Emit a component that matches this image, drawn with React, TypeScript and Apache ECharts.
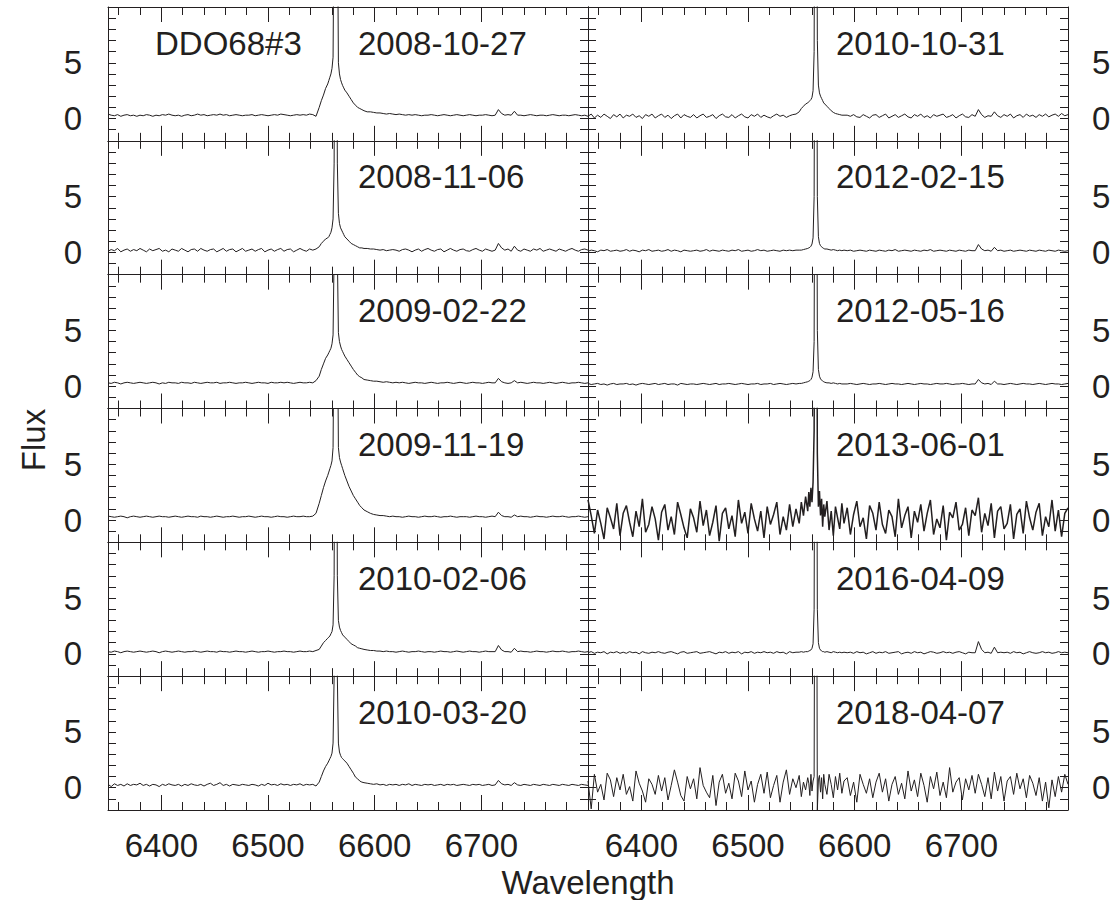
import React, { useEffect, useRef } from "react";
import * as echarts from "echarts";

// Shared wavelength sampling grid (Angstrom)
const WAVELENGTH = [
  // blue continuum (66)
  6350, 6353, 6356, 6359, 6362, 6365, 6368, 6371, 6374, 6377, 6380,
  6383, 6386, 6389, 6392, 6395, 6398, 6401, 6404, 6407, 6410, 6413,
  6416, 6419, 6422, 6425, 6428, 6431, 6434, 6437, 6440, 6443, 6446,
  6449, 6452, 6455, 6458, 6461, 6464, 6467, 6470, 6473, 6476, 6479,
  6482, 6485, 6488, 6491, 6494, 6497, 6500, 6503, 6506, 6509, 6512,
  6515, 6518, 6521, 6524, 6527, 6530, 6533, 6536, 6539, 6542, 6545,
  // line region (30)
  6548, 6550, 6552, 6554,
  6556, 6557, 6558, 6559, 6560, 6561, 6562, 6563, 6564, 6565, 6566, 6567, 6568, 6569, 6570, 6571, 6572,
  6574, 6576, 6578, 6580, 6582, 6584, 6586, 6588, 6590,
  // red continuum (70)
  6593, 6596, 6599, 6602, 6605, 6608, 6611, 6614, 6617, 6620,
  6623, 6626, 6629, 6632, 6635, 6638, 6641, 6644, 6647, 6650,
  6653, 6656, 6659, 6662, 6665, 6668, 6671, 6674, 6677, 6680,
  6683, 6686, 6689, 6692, 6695, 6698, 6701, 6704, 6707, 6710,
  6713, 6716, 6719, 6722, 6725, 6728, 6731, 6734, 6737, 6740,
  6743, 6746, 6749, 6752, 6755, 6758, 6761, 6764, 6767, 6770,
  6773, 6776, 6779, 6782, 6785, 6788, 6791, 6794, 6797, 6800,
];

const OBJECT_NAME = "DDO68#3";
const DATES_LEFT = ["2008-10-27", "2008-11-06", "2009-02-22", "2009-11-19", "2010-02-06", "2010-03-20"];
const DATES_RIGHT = ["2010-10-31", "2012-02-15", "2012-05-16", "2013-06-01", "2016-04-09", "2018-04-07"];

const X_MAJOR = [6400, 6500, 6600, 6700];
const X_MINOR = [6360, 6380, 6420, 6440, 6460, 6480, 6520, 6540, 6560, 6580, 6620, 6640, 6660, 6680, 6720, 6740, 6760, 6780];
const Y_LABELED = [0, 5];

const FLUX_L1 = [
  0.4, 0.3, 0.25, 0.35, 0.2, 0.3, 0.35, 0.25, 0.3, 0.2, 0.3,
  0.25, 0.35, 0.3, 0.2, 0.3, 0.25, 0.35, 0.3, 0.4, 0.3, 0.25,
  0.3, 0.2, 0.3, 0.35, 0.25, 0.3, 0.4, 0.3, 0.35, 0.25, 0.3,
  0.35, 0.3, 0.4, 0.3, 0.35, 0.25, 0.3, 0.35, 0.3, 0.25, 0.3,
  0.3, 0.35, 0.25, 0.3, 0.35, 0.3, 0.25, 0.3, 0.35, 0.3, 0.4,
  0.35, 0.3, 0.25, 0.3, 0.35, 0.3, 0.35, 0.3, 0.4, 0.35, 0.2,
  1.0, 1.6, 2.1, 2.7,
  3.1, 3.4, 3.7, 4.0, 4.5, 5.5, 20, 40, 40, 20, 5, 4, 3.5, 3.2, 2.95, 2.75, 2.55,
  2.3, 2.0, 1.7, 1.4, 1.2, 1.0, 0.9, 0.8, 0.7,
  0.6, 0.6, 0.55, 0.5, 0.5, 0.45, 0.4, 0.45, 0.4, 0.35,
  0.4, 0.35, 0.3, 0.35, 0.3, 0.35, 0.3, 0.25, 0.3, 0.3,
  0.35, 0.3, 0.25, 0.3, 0.35, 0.3, 0.25, 0.3, 0.35, 0.3,
  0.25, 0.3, 0.35, 0.3, 0.25, 0.3, 0.3, 0.35, 0.3, 0.25,
  0.3, 0.8, 0.45, 0.3, 0.35, 0.3, 0.65, 0.3, 0.3, 0.25,
  0.3, 0.35, 0.3, 0.25, 0.3, 0.3, 0.25, 0.3, 0.35, 0.3,
  0.25, 0.3, 0.3, 0.25, 0.3, 0.35, 0.3, 0.25, 0.3, 0.2,
];

const FLUX_L2 = [
  0.1, 0.25, 0.15, 0.35, 0.05, 0.2, 0.3, 0.1, 0.25, 0.15, 0.35,
  0.2, 0.05, 0.3, 0.15, 0.25, 0.35, 0.1, 0.2, 0.05, 0.3, 0.2,
  0.1, 0.35, 0.2, 0.05, 0.25, 0.3, 0.1, 0.35, 0.2, 0.1, 0.25,
  0.3, 0.05, 0.2, 0.35, 0.1, 0.25, 0.3, 0.05, 0.2, 0.35, 0.1,
  0.2, 0.3, 0.1, 0.25, 0.35, 0.05, 0.2, 0.3, 0.1, 0.25, 0.35,
  0.1, 0.25, 0.3, 0.05, 0.2, 0.35, 0.2, 0.1, 0.3, 0.2, 0.3,
  0.5, 0.8, 1.0, 1.2,
  1.3, 1.4, 1.6, 1.8, 2.2, 3.0, 8, 40, 40, 8, 3.5, 2.6, 2.2, 2.0, 1.8, 1.6, 1.4,
  1.2, 1.0, 0.8, 0.7, 0.6, 0.5, 0.4, 0.4, 0.35,
  0.35, 0.3, 0.3, 0.25, 0.2, 0.25, 0.15, 0.2, 0.25, 0.2,
  0.1, 0.25, 0.3, 0.2, 0.05, 0.2, 0.3, 0.1, 0.25, 0.35,
  0.2, 0.1, 0.25, 0.3, 0.05, 0.2, 0.35, 0.2, 0.1, 0.25,
  0.3, 0.15, 0.1, 0.25, 0.35, 0.2, 0.1, 0.3, 0.2, 0.1,
  0.2, 0.8, 0.4, 0.2, 0.3, 0.1, 0.55, 0.2, 0.1, 0.3,
  0.2, 0.1, 0.3, 0.2, 0.35, 0.1, 0.2, 0.3, 0.2, 0.1,
  0.3, 0.2, 0.1, 0.25, 0.35, 0.2, 0.1, 0.25, 0.3, 0.2,
];

const FLUX_L3 = [
  0.3, 0.25, 0.35, 0.3, 0.2, 0.3, 0.35, 0.3, 0.25, 0.3, 0.35,
  0.3, 0.25, 0.3, 0.35, 0.3, 0.2, 0.3, 0.25, 0.35, 0.3, 0.3,
  0.25, 0.35, 0.3, 0.3, 0.25, 0.35, 0.3, 0.25, 0.3, 0.35, 0.3,
  0.3, 0.35, 0.25, 0.3, 0.3, 0.35, 0.3, 0.25, 0.3, 0.3, 0.35,
  0.3, 0.25, 0.3, 0.35, 0.3, 0.3, 0.25, 0.35, 0.3, 0.3, 0.35,
  0.3, 0.35, 0.3, 0.25, 0.3, 0.35, 0.3, 0.3, 0.35, 0.3, 0.5,
  0.9, 1.5, 2.0, 2.5,
  2.8, 3.0, 3.2, 3.4, 3.8, 4.6, 12, 40, 40, 12, 4.8, 4.0, 3.6, 3.3, 3.1, 2.9, 2.7,
  2.4, 2.1, 1.8, 1.5, 1.25, 1.0, 0.85, 0.75, 0.6,
  0.55, 0.5, 0.45, 0.45, 0.4, 0.35, 0.4, 0.35, 0.3, 0.35,
  0.3, 0.35, 0.3, 0.25, 0.3, 0.35, 0.3, 0.3, 0.25, 0.3,
  0.35, 0.3, 0.25, 0.3, 0.3, 0.35, 0.3, 0.25, 0.3, 0.35,
  0.3, 0.25, 0.3, 0.35, 0.3, 0.3, 0.25, 0.3, 0.35, 0.3,
  0.3, 0.7, 0.4, 0.3, 0.25, 0.3, 0.5, 0.3, 0.35, 0.3,
  0.25, 0.3, 0.35, 0.3, 0.3, 0.25, 0.3, 0.35, 0.3, 0.25,
  0.3, 0.35, 0.3, 0.25, 0.3, 0.3, 0.35, 0.3, 0.25, 0.3,
];

const FLUX_L4 = [
  0.35, 0.3, 0.25, 0.3, 0.35, 0.3, 0.2, 0.3, 0.35, 0.3, 0.25,
  0.3, 0.35, 0.3, 0.25, 0.3, 0.35, 0.3, 0.3, 0.25, 0.3, 0.35,
  0.3, 0.25, 0.3, 0.35, 0.3, 0.3, 0.25, 0.35, 0.3, 0.3, 0.25,
  0.3, 0.35, 0.3, 0.25, 0.3, 0.3, 0.35, 0.3, 0.25, 0.3, 0.3,
  0.35, 0.3, 0.25, 0.3, 0.35, 0.3, 0.3, 0.25, 0.3, 0.35, 0.3,
  0.3, 0.25, 0.3, 0.35, 0.3, 0.3, 0.35, 0.3, 0.3, 0.35, 0.6,
  1.5, 2.2, 2.9, 3.5,
  4.0, 4.3, 4.6, 4.9, 5.3, 6.5, 20, 40, 40, 20, 6.5, 5.6, 5.2, 4.9, 4.6, 4.3, 4.0,
  3.5, 3.0, 2.6, 2.2, 1.9, 1.6, 1.3, 1.1, 0.9,
  0.75, 0.6, 0.5, 0.45, 0.4, 0.4, 0.35, 0.3, 0.35, 0.3,
  0.3, 0.25, 0.3, 0.35, 0.3, 0.3, 0.25, 0.3, 0.35, 0.3,
  0.3, 0.35, 0.3, 0.25, 0.3, 0.3, 0.35, 0.3, 0.25, 0.3,
  0.3, 0.3, 0.25, 0.3, 0.35, 0.3, 0.3, 0.25, 0.3, 0.35,
  0.3, 0.7, 0.4, 0.3, 0.3, 0.25, 0.45, 0.3, 0.35, 0.3,
  0.3, 0.25, 0.3, 0.35, 0.3, 0.3, 0.25, 0.3, 0.35, 0.3,
  0.3, 0.35, 0.3, 0.25, 0.3, 0.3, 0.35, 0.3, 0.25, 0.3,
];

const FLUX_L5 = [
  0.2, 0.15, 0.25, 0.2, 0.1, 0.2, 0.25, 0.2, 0.15, 0.2, 0.25,
  0.2, 0.15, 0.2, 0.25, 0.2, 0.1, 0.2, 0.25, 0.2, 0.15, 0.2,
  0.25, 0.2, 0.15, 0.2, 0.2, 0.25, 0.2, 0.15, 0.2, 0.25, 0.2,
  0.2, 0.15, 0.25, 0.2, 0.2, 0.15, 0.2, 0.25, 0.2, 0.2, 0.15,
  0.2, 0.25, 0.2, 0.15, 0.2, 0.2, 0.25, 0.2, 0.15, 0.2, 0.2,
  0.25, 0.2, 0.2, 0.15, 0.2, 0.25, 0.2, 0.2, 0.25, 0.2, 0.3,
  0.4, 0.7, 1.0, 1.2,
  1.4, 1.5, 1.6, 1.8, 2.0, 2.6, 7, 40, 40, 7, 3.0, 2.4, 2.1, 1.9, 1.7, 1.6, 1.5,
  1.3, 1.1, 0.9, 0.8, 0.7, 0.55, 0.5, 0.45, 0.4,
  0.35, 0.3, 0.3, 0.25, 0.25, 0.2, 0.25, 0.2, 0.2, 0.15,
  0.2, 0.25, 0.2, 0.15, 0.2, 0.2, 0.25, 0.2, 0.15, 0.2,
  0.2, 0.15, 0.2, 0.25, 0.2, 0.2, 0.15, 0.2, 0.25, 0.2,
  0.15, 0.2, 0.25, 0.2, 0.2, 0.15, 0.2, 0.25, 0.2, 0.2,
  0.2, 0.75, 0.35, 0.2, 0.2, 0.15, 0.5, 0.2, 0.25, 0.2,
  0.2, 0.15, 0.2, 0.25, 0.2, 0.2, 0.15, 0.2, 0.25, 0.2,
  0.2, 0.25, 0.2, 0.15, 0.2, 0.2, 0.25, 0.2, 0.15, 0.2,
];

const FLUX_L6 = [
  0.3, 0.1, 0.35, 0.2, 0.3, 0.15, 0.35, 0.2, 0.3, 0.25, 0.4,
  0.2, 0.3, 0.15, 0.3, 0.25, 0.1, 0.3, 0.2, 0.35, 0.25, 0.2,
  0.3, 0.15, 0.3, 0.2, 0.35, 0.25, 0.2, 0.3, 0.15, 0.3, 0.4,
  0.2, 0.3, 0.45, 0.2, 0.3, 0.15, 0.3, 0.25, 0.2, 0.3, 0.25,
  0.2, 0.3, 0.25, 0.15, 0.3, 0.2, 0.4, 0.25, 0.3, 0.2, 0.35,
  0.25, 0.3, 0.2, 0.3, 0.25, 0.35, 0.2, 0.3, 0.25, 0.3, 0.15,
  0.5, 1.0, 1.5, 1.9,
  2.2, 2.4, 2.6, 2.8, 3.1, 4.0, 10, 40, 40, 10, 4.0, 3.2, 2.9, 2.7, 2.6, 2.5, 2.4,
  2.2, 1.9, 1.6, 1.3, 0.95, 0.8, 0.6, 0.5, 0.45,
  0.4, 0.35, 0.3, 0.35, 0.25, 0.3, 0.2, 0.3, 0.25, 0.3,
  0.2, 0.3, 0.25, 0.35, 0.2, 0.3, 0.25, 0.2, 0.3, 0.25,
  0.3, 0.2, 0.25, 0.3, 0.2, 0.3, 0.25, 0.3, 0.2, 0.25,
  0.3, 0.25, 0.2, 0.3, 0.25, 0.3, 0.2, 0.25, 0.3, 0.2,
  0.25, 0.65, 0.35, 0.25, 0.3, 0.2, 0.45, 0.25, 0.2, 0.3,
  0.25, 0.2, 0.3, 0.25, 0.2, 0.3, 0.25, 0.2, 0.3, 0.25,
  0.2, 0.3, 0.25, 0.2, 0.3, 0.25, 0.2, 0.3, 0.25, 0.2,
];

const FLUX_R1 = [
  0.2, 0.4, 0.05, 0.3, 0.1, 0.4, 0.2, 0.0, 0.35, 0.15, 0.4,
  0.05, 0.3, 0.2, 0.4, 0.1, 0.25, 0.0, 0.35, 0.2, 0.4, 0.05,
  0.25, 0.4, 0.1, 0.3, 0.0, 0.25, 0.4, 0.05, 0.35, 0.2, 0.1,
  0.35, 0.05, 0.25, 0.4, 0.1, 0.2, 0.35, 0.0, 0.25, 0.4, 0.15,
  0.1, 0.35, 0.05, 0.25, 0.4, 0.15, 0.05, 0.35, 0.2, 0.4, 0.1,
  0.3, 0.15, 0.05, 0.25, 0.4, 0.2, 0.3, 0.1, 0.25, 0.35, 0.4,
  0.6, 0.9, 1.1, 1.3,
  1.4, 1.5, 1.6, 1.7, 1.9, 2.5, 6, 40, 40, 7, 3.0, 2.3, 2.0, 1.8, 1.6, 1.4, 1.3,
  1.1, 0.9, 0.7, 0.55, 0.45, 0.4, 0.35, 0.3, 0.3,
  0.3, 0.2, 0.35, 0.15, 0.1, 0.35, 0.2, 0.05, 0.3, 0.35,
  0.1, 0.25, 0.4, 0.05, 0.2, 0.35, 0.1, 0.25, 0.4, 0.15,
  0.05, 0.35, 0.2, 0.4, 0.1, 0.25, 0.05, 0.35, 0.2, 0.3,
  0.4, 0.1, 0.2, 0.35, 0.05, 0.25, 0.4, 0.15, 0.1, 0.35,
  0.2, 0.8, 0.35, 0.1, 0.25, 0.2, 0.6, 0.25, 0.1, 0.35,
  0.2, 0.4, 0.05, 0.25, 0.35, 0.1, 0.4, 0.2, 0.3, 0.1,
  0.35, 0.2, 0.4, 0.15, 0.3, 0.4, 0.2, 0.45, 0.25, 0.35,
];

const FLUX_R2 = [
  0.1, 0.2, 0.15, 0.05, 0.2, 0.15, 0.25, 0.1, 0.15, 0.2, 0.1,
  0.15, 0.25, 0.1, 0.2, 0.15, 0.05, 0.2, 0.15, 0.25, 0.1, 0.15,
  0.2, 0.1, 0.15, 0.25, 0.1, 0.2, 0.15, 0.05, 0.2, 0.15, 0.1,
  0.15, 0.2, 0.1, 0.15, 0.25, 0.1, 0.2, 0.15, 0.1, 0.2, 0.15,
  0.1, 0.2, 0.15, 0.25, 0.1, 0.15, 0.2, 0.1, 0.15, 0.25, 0.15,
  0.2, 0.1, 0.15, 0.2, 0.15, 0.1, 0.2, 0.15, 0.2, 0.15, 0.2,
  0.2, 0.2, 0.25, 0.3,
  0.35, 0.4, 0.45, 0.55, 0.75, 1.3, 5, 40, 40, 5, 1.4, 0.8, 0.6, 0.5, 0.4, 0.35, 0.3,
  0.3, 0.25, 0.2, 0.25, 0.2, 0.15, 0.2, 0.15, 0.2,
  0.15, 0.2, 0.1, 0.15, 0.2, 0.15, 0.1, 0.2, 0.15, 0.1,
  0.2, 0.15, 0.1, 0.2, 0.15, 0.25, 0.1, 0.15, 0.2, 0.15,
  0.1, 0.2, 0.15, 0.1, 0.2, 0.15, 0.25, 0.1, 0.15, 0.2,
  0.15, 0.1, 0.2, 0.15, 0.1, 0.2, 0.15, 0.1, 0.2, 0.15,
  0.15, 0.7, 0.3, 0.15, 0.2, 0.1, 0.45, 0.15, 0.2, 0.1,
  0.15, 0.2, 0.1, 0.15, 0.2, 0.15, 0.1, 0.2, 0.15, 0.1,
  0.2, 0.15, 0.1, 0.2, 0.15, 0.1, 0.2, 0.15, 0.1, 0.15,
];

const FLUX_R3 = [
  0.25, 0.15, 0.2, 0.25, 0.15, 0.2, 0.1, 0.2, 0.25, 0.15, 0.2,
  0.2, 0.25, 0.15, 0.2, 0.1, 0.2, 0.25, 0.2, 0.15, 0.2, 0.25,
  0.15, 0.2, 0.25, 0.15, 0.2, 0.2, 0.1, 0.25, 0.2, 0.15, 0.2,
  0.2, 0.15, 0.2, 0.25, 0.2, 0.15, 0.2, 0.25, 0.15, 0.2, 0.2,
  0.25, 0.2, 0.15, 0.2, 0.25, 0.2, 0.15, 0.2, 0.2, 0.25, 0.15,
  0.2, 0.2, 0.25, 0.15, 0.2, 0.25, 0.2, 0.15, 0.2, 0.25, 0.2,
  0.25, 0.25, 0.3, 0.35,
  0.4, 0.45, 0.5, 0.6, 0.8, 1.3, 4, 40, 40, 5, 1.5, 0.9, 0.65, 0.55, 0.45, 0.4, 0.35,
  0.3, 0.3, 0.25, 0.3, 0.25, 0.2, 0.25, 0.2, 0.2,
  0.2, 0.25, 0.2, 0.15, 0.2, 0.25, 0.2, 0.15, 0.2, 0.2,
  0.25, 0.2, 0.15, 0.2, 0.25, 0.2, 0.2, 0.15, 0.2, 0.25,
  0.2, 0.15, 0.2, 0.25, 0.2, 0.2, 0.15, 0.2, 0.25, 0.2,
  0.2, 0.25, 0.2, 0.15, 0.2, 0.2, 0.25, 0.2, 0.15, 0.2,
  0.2, 0.6, 0.3, 0.2, 0.25, 0.15, 0.45, 0.2, 0.2, 0.15,
  0.2, 0.25, 0.2, 0.15, 0.2, 0.25, 0.2, 0.2, 0.15, 0.2,
  0.25, 0.2, 0.15, 0.2, 0.25, 0.2, 0.2, 0.15, 0.2, 0.25,
];

const FLUX_R4 = [
  1.8, 0.4, -1.2, 0.9, -0.3, -1.7, 1.1, 0.2, -0.8, 1.5, -1.4,
  0.6, 1.3, -0.2, -1.5, 0.8, -0.6, 1.9, -1.1, -0.4, 1.2, 0.1,
  -1.8, 0.7, 1.4, -0.9, 0.3, -1.3, 1.6, 0.5, -0.7, -1.6, 1.0,
  0.2, -1.1, 1.7, -0.5, 0.9, -1.4, -0.2, 1.3, -1.9, 0.6, 1.1,
  -0.8, 0.4, -1.5, 1.8, -0.3, 0.7, -1.2, 1.5, 0.1, -1.0, 0.8,
  -1.6, 1.2, -0.4, 0.5, 1.6, -1.3, 0.3, -0.9, 1.4, -0.6, 1.0,
  -0.3, 1.6, 0.4, 2.1,
  0.8, 2.5, 1.2, 2.9, 1.6, 3.4, 8, 40, 40, 6, 1.2, 2.6, 0.4, 1.9, -0.6, 1.4, 0.3,
  1.7, -0.9, 0.8, -1.4, 1.2, 0.2, -0.8, 1.5, -0.3,
  1.1, -1.3, 0.5, 1.7, -0.6, 0.2, -1.7, 1.3, 0.6, -0.9,
  1.6, -0.4, -1.2, 0.9, 0.3, -1.5, 1.9, -0.7, 0.4, 1.2,
  -1.6, 0.8, -0.2, 1.4, -1.0, 0.6, 1.8, -1.3, 0.1, -0.7,
  1.3, -1.8, 0.7, 0.2, 1.6, -0.9, -0.4, 1.1, -1.4, 0.9,
  0.4, 2.0, -1.1, 0.6, -0.5, 1.5, -1.6, 0.8, 1.2, -0.8,
  -0.3, 1.4, -1.7, 0.5, 1.0, -1.2, 1.7, 0.2, -0.9, 0.7,
  1.5, -1.4, 0.3, -0.6, 1.8, -1.0, 0.9, -1.5, 0.6, 1.1,
];

const FLUX_R5 = [
  0.1, 0.2, 0.05, 0.15, 0.1, 0.2, 0.0, 0.15, 0.1, 0.2, 0.05,
  0.15, 0.05, 0.2, 0.1, 0.15, 0.0, 0.2, 0.1, 0.05, 0.15, 0.1,
  0.2, 0.1, 0.05, 0.15, 0.2, 0.1, 0.0, 0.15, 0.2, 0.05, 0.1,
  0.15, 0.2, 0.05, 0.1, 0.15, 0.2, 0.1, 0.0, 0.15, 0.1, 0.2,
  0.05, 0.15, 0.1, 0.2, 0.0, 0.15, 0.1, 0.2, 0.05, 0.15, 0.1,
  0.2, 0.1, 0.15, 0.05, 0.2, 0.1, 0.15, 0.0, 0.2, 0.1, 0.15,
  0.15, 0.2, 0.15, 0.2,
  0.2, 0.25, 0.3, 0.35, 0.5, 0.9, 4, 40, 40, 4, 1.0, 0.5, 0.35, 0.25, 0.2, 0.2, 0.15,
  0.2, 0.15, 0.1, 0.2, 0.15, 0.1, 0.15, 0.1, 0.15,
  0.1, 0.15, 0.05, 0.2, 0.1, 0.15, 0.0, 0.1, 0.2, 0.05,
  0.15, 0.1, 0.2, 0.05, 0.1, 0.15, 0.2, 0.0, 0.1, 0.15,
  0.05, 0.2, 0.1, 0.15, 0.0, 0.1, 0.2, 0.15, 0.05, 0.1,
  0.2, 0.1, 0.15, 0.05, 0.15, 0.2, 0.1, 0.0, 0.15, 0.1,
  0.1, 1.1, 0.4, 0.1, 0.15, 0.05, 0.6, 0.1, 0.15, 0.1,
  0.15, 0.05, 0.2, 0.1, 0.15, 0.0, 0.1, 0.2, 0.1, 0.05,
  0.1, 0.2, 0.1, 0.15, 0.05, 0.1, 0.2, 0.1, 0.15, 0.1,
];

const FLUX_R6 = [
  0.6, -1.9, 1.2, -0.4, 0.3, -1.1, 1.3, 0.7, -0.8, 0.9, -0.2,
  1.2, -0.6, 0.1, -1.2, 1.5, 0.4, -0.3, -1.3, 0.8, 0.3, -0.6,
  1.1, -0.3, 0.9, -1.1, 0.2, 1.6, 0.5, -0.7, -1.2, 1.0, -0.1,
  0.8, -1.0, 1.8, 0.2, -0.4, -0.9, 1.1, -1.6, 0.5, 1.2, -0.5,
  0.4, -1.0, 1.3, 0.6, -0.8, 1.5, -0.2, 0.6, -1.3, 0.3, 1.2,
  -0.5, 1.4, -0.9, 0.2, 1.1, -1.3, 0.5, 1.6, -0.6, 0.8, 0.0,
  1.1, -0.8, 0.5, -0.2,
  0.9, 0.4, -0.7, 1.2, -0.3, 0.6, 1.0, 40, 40, -2.0, 0.7, 1.1, -0.4, 0.9, -1.0, 1.2, 0.3,
  -0.6, 1.2, 0.3, -0.9, 1.0, -0.2, 1.3, -0.5, 0.6,
  0.9, -0.7, 0.5, -1.3, 1.2, 0.3, -0.5, 0.8, -0.9, 0.5,
  1.3, -0.4, 0.8, -1.2, 0.3, 1.0, -0.6, 0.4, -1.0, 1.5,
  -0.3, 0.7, -0.8, 1.3, 0.2, -1.3, 1.0, -0.1, 1.4, -0.7,
  0.5, -0.9, 1.8, -0.4, 0.5, 0.9, -1.1, 0.8, -0.2, 1.1,
  -0.5, 1.2, 0.3, -0.8, 0.9, -1.0, 1.4, -0.3, 1.0, -1.2,
  0.6, 1.0, -0.6, 1.3, -0.1, 0.8, -0.9, 1.1, 0.4, -0.7,
  0.9, -1.2, 0.5, -1.8, 0.7, -0.8, 1.0, -0.4, 1.2, 0.3,
];

const FLUX_LEFT = [FLUX_L1, FLUX_L2, FLUX_L3, FLUX_L4, FLUX_L5, FLUX_L6];
const FLUX_RIGHT = [FLUX_R1, FLUX_R2, FLUX_R3, FLUX_R4, FLUX_R5, FLUX_R6];

const INK = "#231f20";
const FONT = '"Liberation Sans", Arial, Helvetica, sans-serif';
const FS = 33;
const PLOT_TOP = 7;
const PLOT_BOTTOM = 810;
const COL_LEFT = [108, 588];
const COL_WIDTH = 480;
const ROW_H = (PLOT_BOTTOM - PLOT_TOP) / 6;

export default function App() {
  const ref = useRef<HTMLDivElement>(null);

  useEffect(() => {
    if (!ref.current) return;
    const chart = echarts.init(ref.current, null, { renderer: "svg" });

    const grids: any[] = [];
    const xAxes: any[] = [];
    const yAxes: any[] = [];
    const series: any[] = [];
    const graphics: any[] = [];

    const panels: { col: number; row: number; date: string; flux: number[] }[] = [];
    DATES_LEFT.forEach((d, r) => panels.push({ col: 0, row: r, date: d, flux: FLUX_LEFT[r] }));
    DATES_RIGHT.forEach((d, r) => panels.push({ col: 1, row: r, date: d, flux: FLUX_RIGHT[r] }));

    const lineStyle = { color: INK, width: 1 };

    panels.forEach((p, i) => {
      const top = PLOT_TOP + p.row * ROW_H;
      grids.push({ left: COL_LEFT[p.col], top, width: COL_WIDTH, height: ROW_H, containLabel: false });
      const base = {
        type: "value",
        gridIndex: i,
        min: 6350,
        max: 6800,
        splitLine: { show: false },
        silent: true,
      };
      const bottomRow = p.row === 5;
      xAxes.push({
        ...base,
        position: "bottom",
        axisLine: { show: true, onZero: false, lineStyle },
        axisTick: { show: true, inside: true, length: 15, customValues: X_MAJOR, lineStyle },
        axisLabel: {
          show: bottomRow,
          customValues: X_MAJOR,
          color: INK,
          fontSize: FS,
          fontFamily: FONT,
          margin: 19,
          formatter: (v: number) => String(v),
        },
      });
      xAxes.push({
        ...base,
        position: "bottom",
        axisLine: { show: false, onZero: false },
        axisTick: { show: true, inside: true, length: 8, customValues: X_MINOR, lineStyle },
        axisLabel: { show: false },
      });
      xAxes.push({
        ...base,
        position: "top",
        axisLine: { show: true, onZero: false, lineStyle },
        axisTick: { show: true, inside: true, length: 15, customValues: X_MAJOR, lineStyle },
        axisLabel: { show: false },
      });
      xAxes.push({
        ...base,
        position: "top",
        axisLine: { show: false, onZero: false },
        axisTick: { show: true, inside: true, length: 8, customValues: X_MINOR, lineStyle },
        axisLabel: { show: false },
      });
      const yBase = {
        type: "value",
        gridIndex: i,
        min: -2,
        max: 10,
        interval: 1,
        splitLine: { show: false },
        axisLine: { show: true, onZero: false, lineStyle },
        axisTick: { show: true, inside: true, length: 8, lineStyle },
        silent: true,
      };
      yAxes.push({
        ...yBase,
        position: "left",
        axisLabel: {
          show: p.col === 0,
          color: INK,
          fontSize: FS,
          fontFamily: FONT,
          margin: 26,
          formatter: (v: number) => (Y_LABELED.indexOf(v) >= 0 ? String(v) : ""),
        },
      });
      yAxes.push({
        ...yBase,
        position: "right",
        axisLabel: {
          show: p.col === 1,
          color: INK,
          fontSize: FS,
          fontFamily: FONT,
          margin: 24,
          formatter: (v: number) => (Y_LABELED.indexOf(v) >= 0 ? String(v) : ""),
        },
      });
      series.push({
        type: "line",
        xAxisIndex: 4 * i,
        yAxisIndex: 2 * i,
        data: WAVELENGTH.map((w, k) => [w, p.flux[k]]),
        showSymbol: false,
        symbol: "none",
        clip: true,
        silent: true,
        lineStyle: { color: INK, width: p.col === 1 && p.row === 3 ? 1.5 : 1 },
      });
      graphics.push({
        type: "text",
        x: COL_LEFT[p.col] + (p.col === 0 ? 250 : 248),
        y: top + 36,
        style: {
          text: p.date,
          fill: INK,
          fontSize: FS,
          fontFamily: FONT,
          textAlign: "left",
          textVerticalAlign: "middle",
        },
      });
    });

    graphics.push({
      type: "text",
      x: COL_LEFT[0] + 47,
      y: PLOT_TOP + 36,
      style: { text: OBJECT_NAME, fill: INK, fontSize: FS, fontFamily: FONT, textAlign: "left", textVerticalAlign: "middle" },
    });
    graphics.push({
      type: "text",
      x: 33,
      y: 440,
      rotation: Math.PI / 2,
      style: { text: "Flux", fill: INK, fontSize: FS, fontFamily: FONT, textAlign: "center", textVerticalAlign: "middle" },
    });
    graphics.push({
      type: "text",
      x: 588,
      y: 882,
      style: { text: "Wavelength", fill: INK, fontSize: FS, fontFamily: FONT, textAlign: "center", textVerticalAlign: "middle" },
    });

    chart.setOption({
      animation: false,
      backgroundColor: "#ffffff",
      grid: grids,
      xAxis: xAxes,
      yAxis: yAxes,
      series,
      graphic: graphics,
    });

    return () => chart.dispose();
  }, []);

  return (
    <div
      ref={ref}
      style={{ position: "absolute", left: 0, top: 0, width: 1115, height: 900 }}
    />
  );
}
